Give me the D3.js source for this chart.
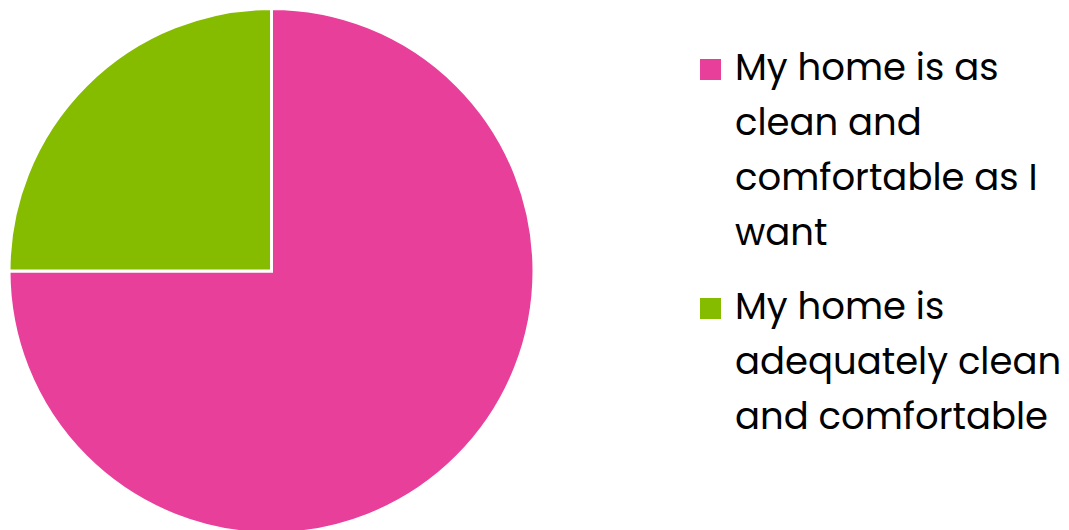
<!DOCTYPE html>
<html>
<head>
<script src="https://d3js.org/d3.v7.min.js"></script>
<style>
body { margin: 0; background: #fff; }
svg { display: block; }
</style>
</head>
<body>
<svg width="1069" height="530"></svg>
<script>
// data
var labels = ["My home is as clean and comfortable as I want", "My home is adequately clean and comfortable"];
var values = [75, 25];
var colors = ["#e8409a", "#86bc00"];
// legend lines, wrapped like the original
var legendLines = [
  ["My home is as", "clean and", "comfortable as I", "want"],
  ["My home is", "adequately clean", "and comfortable"]
];

var svg = d3.select("svg");
var cx = 271.5, cy = 271, r = 262.5;

var pie = d3.pie().sort(null).value(function(d) { return d; });
var arc = d3.arc().innerRadius(0).outerRadius(r);
var color = d3.scaleOrdinal().domain(labels).range(colors);

svg.append("g")
  .attr("transform", "translate(" + cx + "," + cy + ")")
  .selectAll("path")
  .data(pie(values))
  .enter().append("path")
  .attr("d", arc)
  .attr("fill", function(d, i) { return color(labels[i]); })
  .attr("stroke", "#fff")
  .attr("stroke-width", 3);

// legend
var lineH = 55, fontSize = 37;
var legend = svg.append("g").attr("class", "legend");
var y0 = 80;
legendLines.forEach(function(lines, i) {
  var g = legend.append("g");
  g.append("rect")
    .attr("x", 700).attr("y", y0 - 21)
    .attr("width", 21).attr("height", 21)
    .attr("fill", color(labels[i]));
  g.selectAll("text")
    .data(lines)
    .enter().append("text")
    .attr("x", 735)
    .attr("y", function(d, j) { return y0 + j * lineH; })
    .style("font-family", "Poppins, 'Open Sans', sans-serif")
    .style("font-size", fontSize + "px")
    .attr("fill", "#000")
    .text(function(d) { return d; });
  y0 += (lines.length - 1) * lineH + 74;
});
</script>
</body>
</html>
